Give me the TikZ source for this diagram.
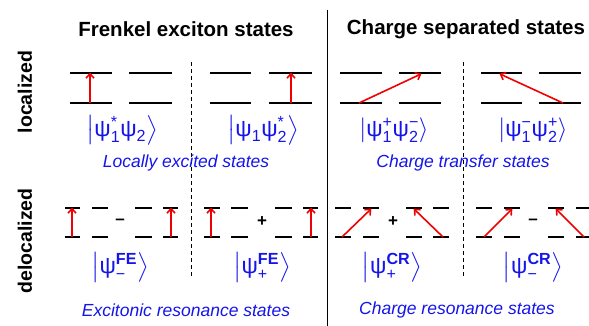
\documentclass[tikz,border=0pt]{standalone}
\usepackage{amsmath}
\usepackage{fontspec}
\setmainfont{Liberation Sans}
\usetikzlibrary{arrows.meta}
\definecolor{ketblue}{RGB}{20,20,235}
\definecolor{jumpred}{RGB}{240,0,0}
\newcommand{\wf}[2]{\text{ψ}_{\text{#1}}^{\text{#2}}}
\newcommand{\wfs}[1]{\text{ψ}_{\text{#1}}}
\newcommand{\ketst}[1]{$\left|#1\right\rangle$}

\begin{document}
\begin{tikzpicture}[
    x=1pt, y=-1pt,
    level/.style={line width=2.4pt},
    dlevel/.style={line width=2.8pt},
    jump/.style={-{Straight Barb[length=4.5pt,width=8pt]}, jumpred, line width=1.6pt, shorten >=-0.5pt},
    title/.style={font=\fontsize{20.5}{24}\selectfont\bfseries},
    side/.style={font=\fontsize{19.5}{22}\selectfont\bfseries, rotate=90},
    ketlab/.style={text=ketblue, font=\fontsize{23}{27}\selectfont, inner sep=0pt},
    group/.style={text=ketblue, font=\fontsize{17.5}{20}\selectfont\itshape, inner sep=0pt},
    sign/.style={font=\fontsize{17}{19}\selectfont\bfseries, inner sep=0pt},
    divider/.style={line width=0.9pt, dash pattern=on 4pt off 3pt}
]
\useasboundingbox (0,0) rectangle (589,326);

% Dividers
\draw[line width=0.9pt] (327,10) -- (327,326);
\draw[divider] (191,62) -- (191,277);
\draw[divider] (463,62) -- (463,277);

% Headings
\node[title] (frenkel) at (186,29) {Frenkel exciton states};
\node[title] (charge) at (466,29) {Charge separated states};
\node[side] (loc) at (25,92) {localized};
\node[side] (deloc) at (25,241) {delocalized};

% Localized levels
\foreach \a/\b in {70/112,129/172,210/251,269/312,340/382,399/441,481/522,539/581} {
  \draw[level] (\a,73) -- (\b,73);
  \draw[level] (\a,103) -- (\b,103);
}

% Delocalized levels
\foreach \a/\b in {65/80,92/108,135/152,163/178,204/220,231/248,275/292,303/318,
                   335/351,363/379,406/422,433/449,476/492,504/520,548/564,576/592} {
  \draw[dlevel] (\a,208) -- (\b,208);
  \draw[dlevel] (\a,237) -- (\b,237);
}

% Excitation end points
\coordinate (le1s) at (90,103);   \coordinate (le1e) at (90,73);
\coordinate (le2s) at (291,103);  \coordinate (le2e) at (291,73);
\coordinate (ct1s) at (359,103);  \coordinate (ct1e) at (421,74);
\coordinate (ct2s) at (563,103);  \coordinate (ct2e) at (500,74);
\coordinate (fm1s) at (72,237);   \coordinate (fm1e) at (72,208);
\coordinate (fm2s) at (171,237);  \coordinate (fm2e) at (171,208);
\coordinate (fp1s) at (211,237);  \coordinate (fp1e) at (211,208);
\coordinate (fp2s) at (311,237);  \coordinate (fp2e) at (311,208);
\coordinate (cp1s) at (342,237);  \coordinate (cp1e) at (371,209);
\coordinate (cp2s) at (443,237);  \coordinate (cp2e) at (414,209);
\coordinate (cm1s) at (484,237);  \coordinate (cm1e) at (512,209);
\coordinate (cm2s) at (584,237);  \coordinate (cm2e) at (556,209);

% Arrows
\draw[jump] (le1s) -- (le1e);
\draw[jump] (le2s) -- (le2e);
\draw[jump] (ct1s) -- (ct1e);
\draw[jump] (ct2s) -- (ct2e);
\draw[jump] (fm1s) -- (fm1e);
\draw[jump] (fm2s) -- (fm2e);
\draw[jump] (fp1s) -- (fp1e);
\draw[jump] (fp2s) -- (fp2e);
\draw[jump] (cp1s) -- (cp1e);
\draw[jump] (cp2s) -- (cp2e);
\draw[jump] (cm1s) -- (cm1e);
\draw[jump] (cm2s) -- (cm2e);

% Signs
\node[sign] (sfm) at (120,222) {–};
\node[sign] (sfp) at (262,222) {+};
\node[sign] (scp) at (393,222) {+};
\node[sign] (scm) at (533,222) {–};

% States
\node[ketlab] (k1) at (122,130) {\ketst{\wf{1}{*}\wfs{2}}};
\node[ketlab] (k2) at (263,130) {\ketst{\wfs{1}\wf{2}{*}}};
\node[ketlab] (k3) at (394,130) {\ketst{\wf{1}{+}\wf{2}{−}}};
\node[ketlab] (k4) at (533,130) {\ketst{\wf{1}{−}\wf{2}{+}}};
\node[ketlab] (k5) at (120,267) {\ketst{\wf{−}{\bfseries FE}}};
\node[ketlab] (k6) at (262,267) {\ketst{\wf{+}{\bfseries FE}}};
\node[ketlab] (k7) at (392,267) {\ketst{\wf{+}{\bfseries CR}}};
\node[ketlab] (k8) at (533,267) {\ketst{\wf{−}{\bfseries CR}}};

% Group labels
\node[group] (lex) at (186,163) {Locally excited states};
\node[group] (ctr) at (463,163) {Charge transfer states};
\node[group] (exr) at (186,310) {Excitonic resonance states};
\node[group] (crr) at (457,310) {Charge resonance states};

\end{tikzpicture}
\end{document}
